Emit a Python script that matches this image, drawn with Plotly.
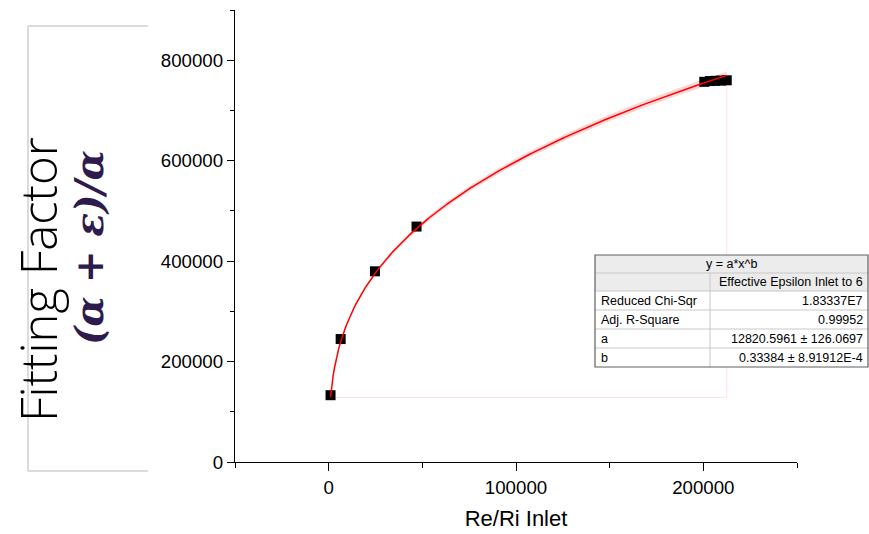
import numpy as np
import plotly.graph_objects as go

# ---------------- data ----------------
re_ri = [1000, 6400, 24700, 46900, 200500, 203500, 206500, 209500, 212500]
fitting_factor = [133000, 244800, 379700, 468800, 757000, 758500, 759000, 759500, 760000]

# fit parameters (from the fit table)
fit_a, fit_a_err = 12820.5961, 126.0697
fit_b, fit_b_err = 0.33384, 8.91912e-4

table_title = "y = a*x^b"
table_series = "Effective Epsilon Inlet to 6"
table_rows = ["Reduced Chi-Sqr", "Adj. R-Square", "a", "b"]
table_vals = ["1.83337E7", "0.99952", "12820.5961 ± 126.0697", "0.33384 ± 8.91912E-4"]

x_ticks = [0, 100000, 200000]
y_ticks = [0, 200000, 400000, 600000, 800000]

# ---------------- layout geometry ----------------
W, H = 869, 534
ML, MR, MT, MB = 235, 72, 10, 72
PW, PH = W - ML - MR, H - MT - MB


def px(x):
    return (x - ML) / PW


def py(y):
    return (H - MB - y) / PH


# fit curve
xf = np.linspace(min(re_ri), max(re_ri), 300)
yf = fit_a * xf ** fit_b
y_up = (fit_a + fit_a_err) * xf ** fit_b
y_lo = (fit_a - fit_a_err) * xf ** fit_b

fig = go.Figure()

# faint outline of band region
fig.add_trace(go.Scatter(
    x=[xf[0], xf[-1], xf[-1]], y=[yf[0], yf[0], yf[-1]],
    mode="lines", line=dict(color="rgba(255,0,0,0.12)", width=1),
    hoverinfo="skip", showlegend=False))

# confidence band
fig.add_trace(go.Scatter(x=xf, y=y_lo, mode="lines", line=dict(width=0),
                         hoverinfo="skip", showlegend=False))
fig.add_trace(go.Scatter(x=xf, y=y_up, mode="lines", line=dict(width=0),
                         fill="tonexty", fillcolor="rgba(255,0,0,0.16)",
                         hoverinfo="skip", showlegend=False))

# data points
fig.add_trace(go.Scatter(x=re_ri, y=fitting_factor, mode="markers",
                         marker=dict(symbol="square", size=10, color="black",
                                     line=dict(width=0)),
                         showlegend=False))

# fit line
fig.add_trace(go.Scatter(x=xf, y=yf, mode="lines",
                         line=dict(color="red", width=1.5),
                         showlegend=False))

axis_font = dict(family="Liberation Sans, Arial, sans-serif", size=18.7, color="black")

fig.update_xaxes(
    range=[-50000, 250000], tickvals=x_ticks, tickformat="d",
    showline=True, linecolor="black", linewidth=1.3, mirror=False,
    ticks="outside", ticklen=8, tickwidth=1.3, tickcolor="black",
    minor=dict(tickmode="linear", tick0=0, dtick=50000, ticks="outside",
               ticklen=5, tickwidth=1.3, tickcolor="black", showgrid=False),
    showgrid=False, zeroline=False, tickfont=axis_font,
    title=dict(text="Re/Ri Inlet", font=dict(family="Liberation Sans, Arial, sans-serif",
                                              size=22, color="black"), standoff=14),
)
fig.update_yaxes(
    range=[0, 900000], tickvals=y_ticks, tickformat="d",
    showline=True, linecolor="black", linewidth=1.3,
    ticks="outside", ticklen=7, tickwidth=1.3, tickcolor="black",
    minor=dict(tickmode="linear", tick0=0, dtick=100000, ticks="outside",
               ticklen=4, tickwidth=1.3, tickcolor="black", showgrid=False),
    showgrid=False, zeroline=False, tickfont=axis_font,
)

shapes = []
annotations = []

# left decorative box (left, top, bottom edges)
box_col = "#d0d0d0"
for (x0, y0, x1, y1) in [(28, 26, 148, 26), (28, 26, 28, 471), (28, 471, 148, 471)]:
    shapes.append(dict(type="line", xref="paper", yref="paper",
                       x0=px(x0), y0=py(y0), x1=px(x1), y1=py(y1),
                       line=dict(color=box_col, width=1.5)))

annotations.append(dict(
    text="Fitting Factor", xref="paper", yref="paper", x=px(38), y=py(280),
    showarrow=False, textangle=-90, xanchor="center", yanchor="middle",
    font=dict(family="Open Sans, sans-serif", size=49, color="black", weight=300)))
annotations.append(dict(
    text="<b><i>(α + ε)/α</i></b>", xref="paper", yref="paper", x=px(89), y=py(248),
    showarrow=False, textangle=-90, xanchor="center", yanchor="middle",
    font=dict(family="DejaVu Serif, serif", size=39, color="#2d1b4e")))

# ---------------- fit table ----------------
tL, tR, tC = 595, 868, 710
row_edges = [255, 273, 291, 310, 329, 348, 367]
grid_col = "#c8c8c8"
head_bg = "#ececec"
tfont = dict(family="Liberation Sans, Arial, sans-serif", size=12.5, color="black")

shapes.append(dict(type="rect", xref="paper", yref="paper",
                   x0=px(tL), x1=px(tR), y0=py(row_edges[2]), y1=py(row_edges[0]),
                   fillcolor=head_bg, line=dict(width=0), layer="above"))
shapes.append(dict(type="rect", xref="paper", yref="paper",
                   x0=px(tL), x1=px(tR), y0=py(row_edges[-1]), y1=py(row_edges[2]),
                   fillcolor="white", line=dict(width=0), layer="above"))
for r in row_edges[1:-1]:
    shapes.append(dict(type="line", xref="paper", yref="paper",
                       x0=px(tL), x1=px(tR), y0=py(r), y1=py(r),
                       line=dict(color=grid_col, width=1), layer="above"))
shapes.append(dict(type="line", xref="paper", yref="paper",
                   x0=px(tC), x1=px(tC), y0=py(row_edges[1]), y1=py(row_edges[-1]),
                   line=dict(color=grid_col, width=1), layer="above"))
shapes.append(dict(type="rect", xref="paper", yref="paper",
                   x0=px(tL), x1=px(tR), y0=py(row_edges[-1]), y1=py(row_edges[0]),
                   line=dict(color="#606060", width=1.2), layer="above"))


def row_mid(i):
    return py((row_edges[i] + row_edges[i + 1]) / 2)


annotations.append(dict(text=table_title, xref="paper", yref="paper",
                        x=px((tL + tR) / 2), y=row_mid(0), showarrow=False,
                        xanchor="center", yanchor="middle", font=tfont))
annotations.append(dict(text=table_series, xref="paper", yref="paper",
                        x=px(tR - 3), y=row_mid(1), showarrow=False,
                        xanchor="right", yanchor="middle", font=tfont))
for i, (name, val) in enumerate(zip(table_rows, table_vals)):
    annotations.append(dict(text=name, xref="paper", yref="paper",
                            x=px(tL + 4), y=row_mid(i + 2), showarrow=False,
                            xanchor="left", yanchor="middle", font=tfont))
    annotations.append(dict(text=val, xref="paper", yref="paper",
                            x=px(tR - 3), y=row_mid(i + 2), showarrow=False,
                            xanchor="right", yanchor="middle", font=tfont))

fig.update_layout(
    width=W, height=H, margin=dict(l=ML, r=MR, t=MT, b=MB, autoexpand=False),
    paper_bgcolor="white", plot_bgcolor="white",
    shapes=shapes, annotations=annotations, showlegend=False,
)

fig.write_html("out.html")
